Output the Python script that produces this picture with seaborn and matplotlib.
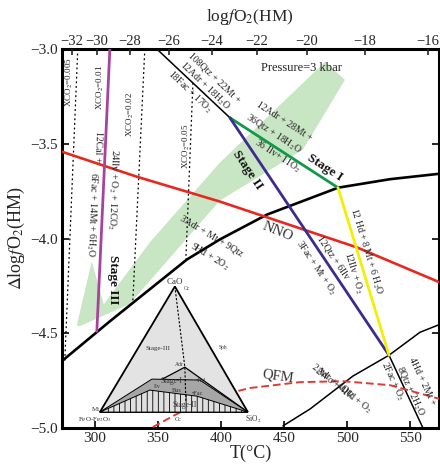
import matplotlib
matplotlib.use("Agg")
import matplotlib.pyplot as plt
import seaborn as sns

# T (degC) and delta logfO2(HM) pairs
adr_T = [273.9, 311.9, 372.9, 399.0, 436.3, 492.6, 533.8, 573.4]
adr_D = [-4.647, -4.437, -4.111, -4.005, -3.874, -3.732, -3.687, -3.658]

nno_T = [273.9, 333.3, 399.0, 507.6, 573.4]
nno_D = [-3.542, -3.674, -3.805, -4.047, -4.232]

qfm_T = [346.0, 365.0, 391.1, 422.8, 462.4, 496.5, 533.8, 573.4]
qfm_D = [-4.995, -4.926, -4.842, -4.789, -4.758, -4.753, -4.774, -4.847]

wo_T = [449.0, 470.4, 504.4, 533.0, 557.5, 573.4]
wo_D = [-4.989, -4.900, -4.726, -4.616, -4.495, -4.453]

fac_T = [349.1, 407.0]
fac_D = [-3.0, -3.363]
stage1_T = [407.0, 492.6]
stage1_D = [-3.363, -3.732]
stage2_T = [407.0, 533.0]
stage2_D = [-3.363, -4.616]
hd_T = [492.6, 533.0]
hd_D = [-3.732, -4.616]
fac2_T = [533.0, 559.9]
fac2_D = [-4.616, -5.0]
stage3_T = [311.9, 301.6]
stage3_D = [-3.0, -4.49]

xco2_labels = ["XCO$_2$=0.005", "XCO$_2$=0.02", "XCO$_2$=0.05"]
xco2_T = [[286.5, 276.2], [339.6, 330.1], [377.7, 372.1]]
xco2_D = [[-3.0, -4.647], [-3.0, -4.332], [-3.179, -4.11]]

# green field
field_T = [285.7, 297.6, 307.1, 343.6, 399.0, 482.3, 498.1, 464.8, 399.0, 327.7, 288.1]
field_D = [-4.458, -4.121, -4.347, -4.020, -3.600, -3.068, -3.163, -3.532, -3.800, -4.345, -4.463]

# ternary inset (CaO - FeO-Fe2O3 - SiO2)
tern_T = [363.4, 304.0, 421.2]
tern_D = [-4.253, -4.916, -4.916]
adr_pt = (371.3, -4.679)
st1_T = [304.0, 371.3, 421.2]
st1_D = [-4.916, -4.679, -4.916]
dark_T = [304.0, 345.2, 383.2, 421.2]
dark_D = [-4.916, -4.742, -4.747, -4.916]
hatch_T = [304.0, 343.6, 380.8, 421.2]
hatch_D = [-4.916, -4.800, -4.832, -4.916]

top_vals = [-32, -30, -28, -26, -24, -22, -20, -18, -16]
top_T = [281.8, 301.6, 327.7, 358.6, 392.7, 428.4, 468.0, 514.0, 564.0]

yticks = [-3.0, -3.5, -4.0, -4.5, -5.0]
xticks = [300, 350, 400, 450, 500, 550]

sns.set_theme(style="ticks")
plt.rcParams['font.family'] = ['Liberation Serif', 'DejaVu Serif']
plt.rcParams['mathtext.fontset'] = 'stix'
plt.rcParams['hatch.linewidth'] = 0.6

fig = plt.figure(figsize=(4.4, 4.68), dpi=100)
ax = fig.add_axes([62 / 440, 40 / 468, 377 / 440, 379 / 468])


def line(T, D, **kw):
    sns.lineplot(x=T, y=D, sort=False, estimator=None, ax=ax, **kw)


ax.fill(field_T, field_D, color='#c9e6c4', lw=0, zorder=1)

for T, D in zip(xco2_T, xco2_D):
    line(T, D, color='black', lw=0.9, linestyle=(0, (1.5, 2.2)), zorder=2)

line(adr_T, adr_D, color='black', lw=1.9, zorder=3)
line(nno_T, nno_D, color='#e8271f', lw=1.9, zorder=3)
line(wo_T, wo_D, color='black', lw=1.1, zorder=3)
line(fac_T, fac_D, color='black', lw=1.1, zorder=3)
line(fac2_T, fac2_D, color='black', lw=1.1, zorder=3)
line(stage1_T, stage1_D, color='#0f9a4a', lw=2.0, zorder=4)
line(stage2_T, stage2_D, color='#3d2b8f', lw=2.0, zorder=4)
line(hd_T, hd_D, color='#f3ef00', lw=2.0, zorder=4)
line(stage3_T, stage3_D, color='#a8439c', lw=2.0, zorder=4)
line(qfm_T, qfm_D, color='#e03a35', lw=1.4, linestyle=(0, (4, 2)), zorder=3)

# ternary inset
ax.fill(tern_T, tern_D, facecolor='#e3e3e3', edgecolor='black', lw=1.3, zorder=5)
ax.fill(st1_T, st1_D, facecolor='#c4c4c4', edgecolor='black', lw=0.9, zorder=6)
ax.fill(dark_T, dark_D, facecolor='#a6a6a6', edgecolor='black', lw=0.7, zorder=7)
ax.fill(hatch_T, hatch_D, facecolor='#e0e0e0', edgecolor='black', lw=0.7,
        hatch='|||', zorder=8)
ax.plot([tern_T[0], adr_pt[0], 372.1], [tern_D[0], adr_pt[1], -4.858],
        color='black', lw=0.8, ls=(0, (2, 1.5)), zorder=9)

tk = dict(ha='center', va='center', zorder=10, color='#333333')
ax.text(363.4, -4.232, "CaO", fontsize=6.5, **tk)
ax.text(372.5, -4.262, "Cc", fontsize=4, **tk)
ax.text(349.9, -4.579, "Stage-III", fontsize=5, **tk)
ax.text(401.4, -4.574, "Sph", fontsize=4, **tk)
ax.text(366.6, -4.663, "Adr", fontsize=4, **tk)
ax.text(361.0, -4.753, "Stage-I", fontsize=5.5, **tk)
ax.text(384.0, -4.747, "•Hd", fontsize=4.5, **tk)
ax.text(349.1, -4.779, "Ilv", fontsize=4.5, **tk)
ax.text(365.0, -4.800, "Bus", fontsize=4.5, **tk)
ax.text(381.5, -4.818, "•Fac", fontsize=4.5, **tk)
ax.text(371.3, -4.879, "Stage-II", fontsize=5.5, **tk)
ax.text(300.5, -4.902, "Mt", fontsize=5, **tk)
ax.text(300.0, -4.958, "FeO-Fe$_2$O$_3$", fontsize=5, **tk)
ax.text(365.8, -4.953, "Cc", fontsize=4.5, **tk)
ax.text(425.2, -4.953, "SiO$_2$", fontsize=5.5, **tk)

# reaction labels
rk = dict(ha='center', va='center', fontsize=7, color='#222222', zorder=6)
ax.text(395.1, -3.153, "108Qtz + 22Mt +", rotation=-43.6, **rk)
ax.text(387.2, -3.195, "12Adr + 18H$_2$O", rotation=-43.6, **rk)
ax.text(375.3, -3.226, "18Fac + 17O$_2$", rotation=-43.6, **rk)
ax.text(449.8, -3.384, "12Adr + 28Mt +", rotation=-33, **rk)
ax.text(441.8, -3.447, "36Qtz + 18H$_2$O", rotation=-33, **rk)
ax.text(445.0, -3.568, "36 Ilv+ 11O$_2$", rotation=-33, **rk)
ax.text(302.4, -3.516, "12Cal +", rotation=-92, **rk)
ax.text(297.6, -3.874, "6Fac + 14Mt + 6H$_2$O", rotation=-92, **rk)
ax.text(314.3, -3.742, "24Ilv + O$_2$ + 12CO$_2$", rotation=-92, **rk)
ax.text(392.7, -3.984, "3Adr + Mt + 9Qtz", rotation=-31, **rk)
ax.text(391.1, -4.095, "9Hd + 2O$_2$", rotation=-31, **rk)
ax.text(488.6, -4.100, "12Qtz + 6Ilv", rotation=-56, **rk)
ax.text(475.1, -4.153, "3Fac + Mt + O$_2$", rotation=-56, **rk)
ax.text(514.7, -4.068, "12 Hd + 8 Mt + 6 H$_2$O", rotation=-73, **rk)
ax.text(504.4, -4.184, "12Ilv + O$_2$", rotation=-73, **rk)
ax.text(559.1, -4.753, "4Hd + 2Mt +", rotation=-65, **rk)
ax.text(550.4, -4.805, "8Qtz + 2H$_2$O", rotation=-65, **rk)
ax.text(536.1, -4.753, "2Fac + O$_2$", rotation=-65, **rk)
ax.text(488.6, -4.753, "2Adr + 4Qtz", rotation=-37, **rk)
ax.text(496.5, -4.805, "2Wo + 4Hd + O$_2$", rotation=-37, **rk)

xk = dict(ha='center', va='center', fontsize=6.5, color='#222222', rotation=90, zorder=6)
ax.text(280.2, -3.174, xco2_labels[0], **xk)
ax.text(304.8, -3.205, "XCO$_2$=0.01", **xk)
ax.text(328.5, -3.347, xco2_labels[1], **xk)
ax.text(372.9, -3.516, xco2_labels[2], **xk)

sk = dict(ha='center', va='center', fontsize=9.5, fontweight='bold', color='#111111', zorder=6)
ax.text(482.3, -3.626, "Stage I", rotation=-33, **sk)
ax.text(421.2, -3.637, "Stage II", rotation=-56, **sk)
ax.text(314.3, -4.216, "Stage III", rotation=-90, **sk)

ax.text(445.0, -3.963, "NNO", rotation=-22, fontsize=10.5, color='#333333',
        ha='center', va='center', zorder=6)
ax.text(445.0, -4.726, "QFM", rotation=-8, fontsize=10.5, color='#333333',
        ha='center', va='center', zorder=6)
ax.text(464.0, -3.10, "Pressure=3 kbar", fontsize=9, color='#222222',
        ha='center', va='center', zorder=6)

ax.set_xlim(274.0, 572.6)
ax.set_ylim(-5.0, -3.0)
ax.set_xticks(xticks)
ax.set_xticklabels([str(v) for v in xticks])
ax.set_yticks(yticks)
ax.set_yticklabels([("%.1f" % v).replace('-', '\u2212') for v in yticks])
ax.tick_params(direction='in', length=5, width=1.4, labelsize=11,
               top=True, right=True, pad=3)
for s in ax.spines.values():
    s.set_linewidth(2.2)
    s.set_color('black')
ax.set_xlabel("T(°C)", fontsize=13, labelpad=0)
ax.set_ylabel(r"$\mathit{\Delta}$log$\mathit{f}$O$_2$(HM)", fontsize=13, labelpad=2)

ax2 = ax.twiny()
ax2.set_xlim(ax.get_xlim())
ax2.set_xticks(top_T)
ax2.set_xticklabels([str(v).replace('-', '\u2212') for v in top_vals])
ax2.tick_params(direction='in', length=4, width=1.2, labelsize=10.5, pad=1)
for s in ax2.spines.values():
    s.set_visible(False)
fig.text(250 / 440, 1 - 17 / 468, r"log$\mathit{f}$O$_2$(HM)", fontsize=12.5,
         ha='center', va='center')

fig.savefig("out.png", dpi=100, facecolor='white')
